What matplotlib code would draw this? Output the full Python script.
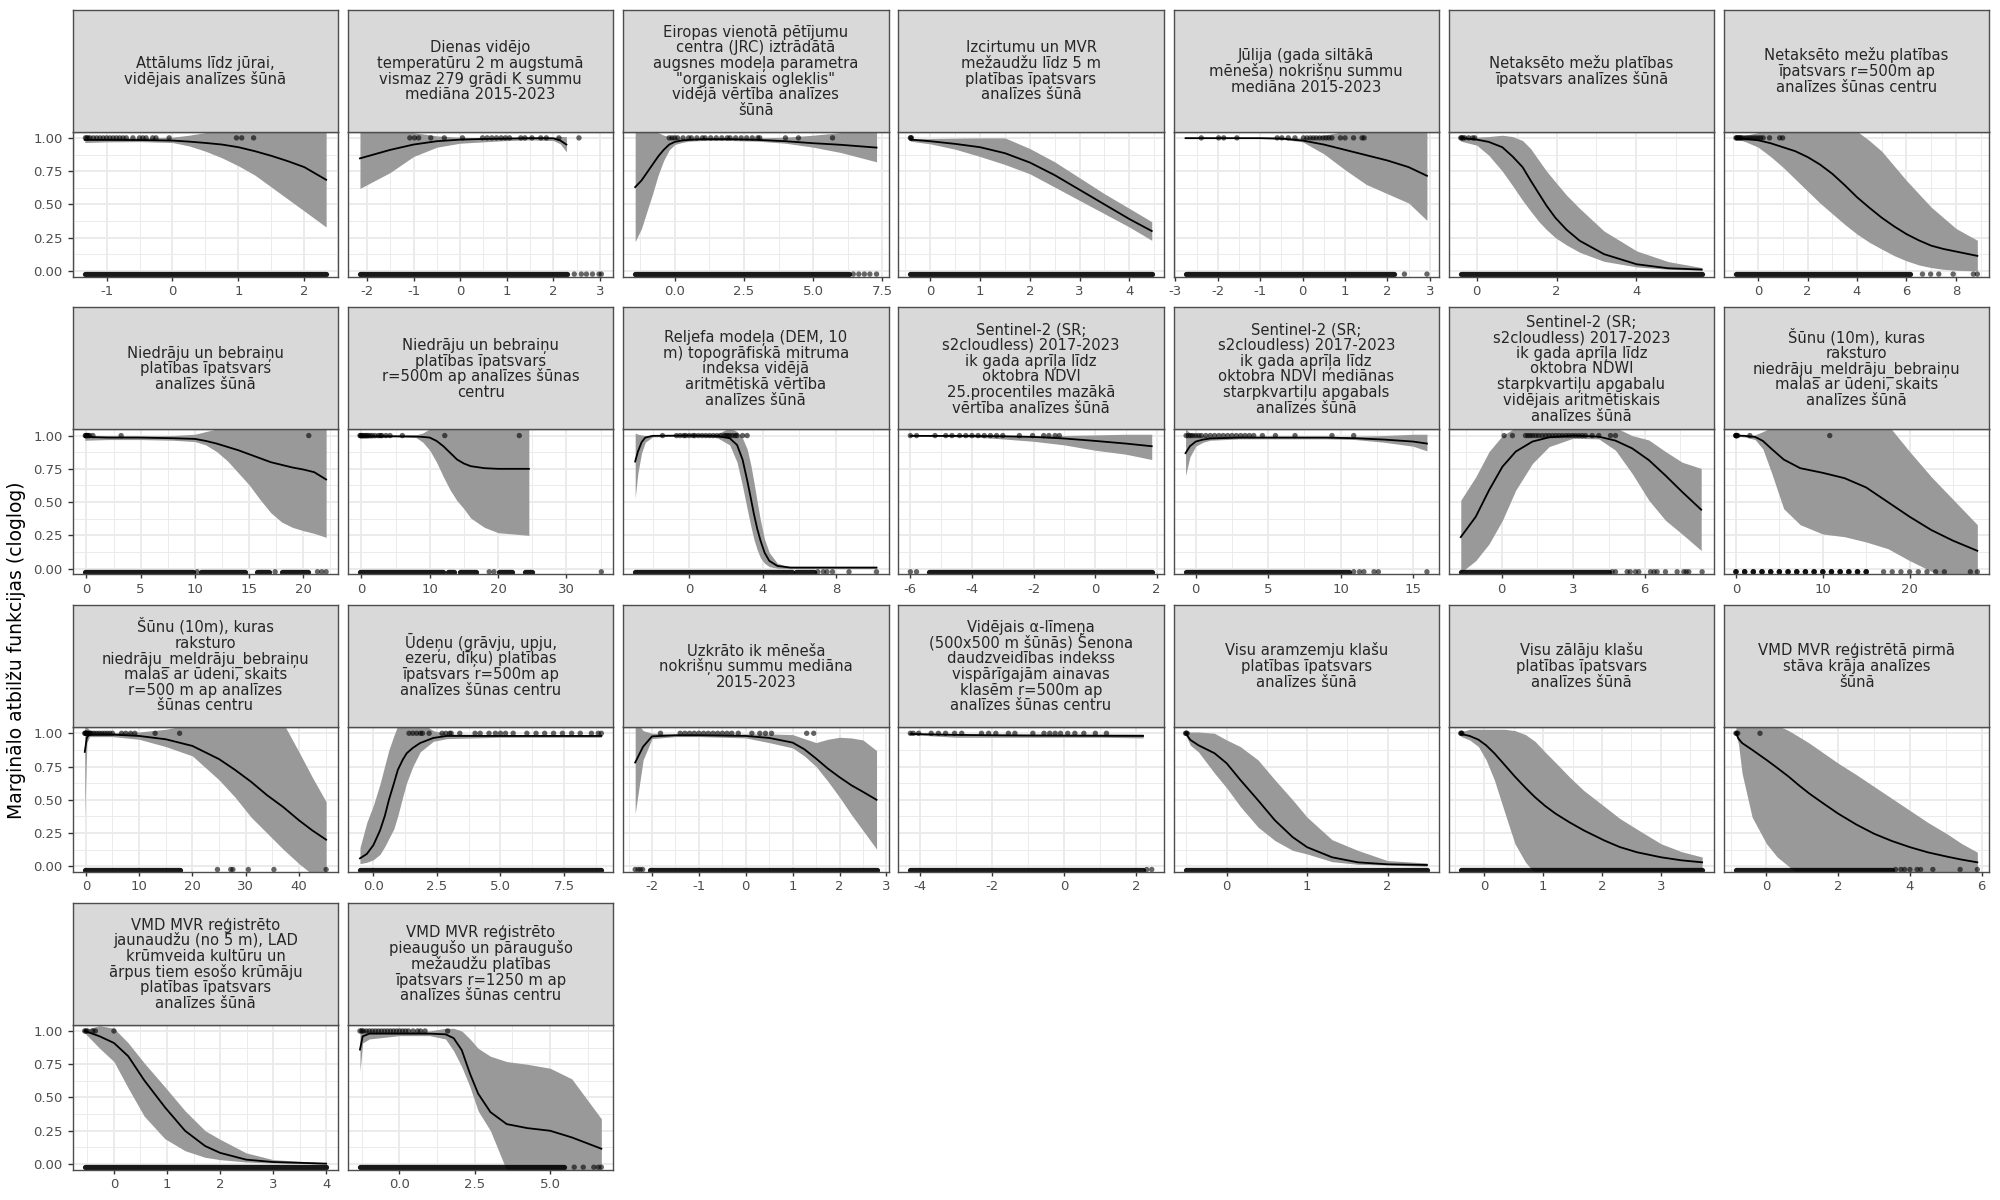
import numpy as np
import matplotlib.pyplot as plt

# ---- data ----
titles = [
    "Attālums līdz jūrai,\nvidējais analīzes šūnā",
    "Dienas vidējo\ntemperatūru 2 m augstumā\nvismaz 279 grādi K summu\nmediāna 2015-2023",
    "Eiropas vienotā pētījumu\ncentra (JRC) iztrādātā\naugsnes modeļa parametra\n\"organiskais ogleklis\"\nvidējā vērtība analīzes\nšūnā",
    "Izcirtumu un MVR\nmežaudžu līdz 5 m\nplatības īpatsvars\nanalīzes šūnā",
    "Jūlija (gada siltākā\nmēneša) nokrišņu summu\nmediāna 2015-2023",
    "Netaksēto mežu platības\nīpatsvars analīzes šūnā",
    "Netaksēto mežu platības\nīpatsvars r=500m ap\nanalīzes šūnas centru",
    "Niedrāju un bebraiņu\nplatības īpatsvars\nanalīzes šūnā",
    "Niedrāju un bebraiņu\nplatības īpatsvars\nr=500m ap analīzes šūnas\ncentru",
    "Reljefa modeļa (DEM, 10\nm) topogrāfiskā mitruma\nindeksa vidējā\naritmētiskā vērtība\nanalīzes šūnā",
    "Sentinel-2 (SR;\ns2cloudless) 2017-2023\nik gada aprīļa līdz\noktobra NDVI\n25.procentiles mazākā\nvērtība analīzes šūnā",
    "Sentinel-2 (SR;\ns2cloudless) 2017-2023\nik gada aprīļa līdz\noktobra NDVI mediānas\nstarpkvartiļu apgabals\nanalīzes šūnā",
    "Sentinel-2 (SR;\ns2cloudless) 2017-2023\nik gada aprīļa līdz\noktobra NDWI\nstarpkvartiļu apgabalu\nvidējais aritmētiskais\nanalīzes šūnā",
    "Šūnu (10m), kuras\nraksturo\nniedrāju_meldrāju_bebraiņu\nmalas ar ūdeni, skaits\nanalīzes šūnā",
    "Šūnu (10m), kuras\nraksturo\nniedrāju_meldrāju_bebraiņu\nmalas ar ūdeni, skaits\nr=500 m ap analīzes\nšūnas centru",
    "Ūdeņu (grāvju, upju,\nezeru, dīķu) platības\nīpatsvars r=500m ap\nanalīzes šūnas centru",
    "Uzkrāto ik mēneša\nnokrišņu summu mediāna\n2015-2023",
    "Vidējais α-līmeņa\n(500x500 m šūnās) Šenona\ndaudzveidības indekss\nvispārīgajām ainavas\nklasēm r=500m ap\nanalīzes šūnas centru",
    "Visu aramzemju klašu\nplatības īpatsvars\nanalīzes šūnā",
    "Visu zālāju klašu\nplatības īpatsvars\nanalīzes šūnā",
    "VMD MVR reģistrētā pirmā\nstāva krāja analīzes\nšūnā",
    "VMD MVR reģistrēto\njaunaudžu (no 5 m), LAD\nkrūmveida kultūru un\nārpus tiem esošo krūmāju\nplatības īpatsvars\nanalīzes šūnā",
    "VMD MVR reģistrēto\npieaugušo un pāraugušo\nmežaudžu platības\nīpatsvars r=1250 m ap\nanalīzes šūnas centru",
]

x_range = [
    [-1.33, 2.33], [-2.15, 3.03], [-1.43, 7.29], [-0.4, 4.45], [-2.76, 2.93],
    [-0.4, 5.65], [-0.9, 8.87], [-0.15, 22.1], [-0.2, 35.1], [-2.95, 10.2],
    [-6.0, 1.84], [-0.7, 15.95], [-1.72, 8.42], [0, 27.8], [-0.2, 45.1],
    [-0.53, 8.97], [-2.36, 2.79], [-4.28, 2.44], [-0.51, 2.49], [-0.4, 3.7],
    [-0.85, 5.88], [-0.55, 4.0], [-1.31, 6.7],
]

x_ticks = [
    [-1, 0, 1, 2], [-2, -1, 0, 1, 2, 3], [0, 2.5, 5, 7.5], [0, 1, 2, 3, 4],
    [-3, -2, -1, 0, 1, 2, 3], [0, 2, 4], [0, 2, 4, 6, 8], [0, 5, 10, 15, 20],
    [0, 10, 20, 30], [0, 4, 8], [-6, -4, -2, 0, 2], [0, 5, 10, 15], [0, 3, 6],
    [0, 10, 20], [0, 10, 20, 30, 40], [0, 2.5, 5, 7.5], [-2, -1, 0, 1, 2, 3],
    [-4, -2, 0, 2], [0, 1, 2], [0, 1, 2, 3], [0, 2, 4, 6], [0, 1, 2, 3, 4],
    [0, 2.5, 5],
]
x_decimals = [0, 0, 1, 0, 0, 0, 0, 0, 0, 0, 0, 0, 0, 0, 0, 1, 0, 0, 0, 0, 0, 0, 1]

curve_x = [
    [-1.33, -1.0, -0.5, 0, 0.25, 0.5, 0.75, 1.0, 1.25, 1.5, 1.75, 2.0, 2.33],
    [-2.15, -1.5, -1, -0.5, 0, 0.5, 1, 1.5, 2, 2.15, 2.28],
    [-1.43, -1.2, -1.0, -0.8, -0.6, -0.4, -0.2, 0, 0.25, 0.5, 1, 2, 3, 4, 5, 6, 7.29],
    [-0.4, 0, 0.5, 1, 1.5, 2, 2.5, 3, 3.5, 4, 4.45],
    [-2.76, -1, -0.5, 0, 0.5, 1, 1.5, 2, 2.5, 2.93],
    [-0.4, 0, 0.3, 0.64, 0.9, 1.15, 1.35, 1.56, 1.75, 1.97, 2.25, 2.58, 3.19, 4.01, 4.8, 5.64],
    [-0.9, -0.5, 0, 0.5, 1, 1.5, 2, 2.5, 3, 3.5, 4, 4.5, 5, 5.5, 6, 6.5, 7, 7.5, 8, 8.87],
    [-0.15, 2, 5, 8, 10, 11, 12, 13, 14, 15, 16, 17, 18, 19, 20, 21, 22.1],
    [-0.2, 5, 8, 9, 10, 11, 12, 13, 14, 15, 16, 18, 20, 24.5],
    [-2.95, -2.8, -2.6, -2.4, -2.0, 0, 1.5, 2.2, 2.6, 2.9, 3.15, 3.35, 3.52, 3.7, 3.88, 4.1, 4.36, 4.8, 5.5, 10.2],
    [-6, -4, -3, -2, -1, 0, 1, 1.84],
    [-0.7, -0.4, 0, 0.5, 1, 3, 6, 9, 11, 13, 15, 15.95],
    [-1.72, -1.09, -0.53, 0.03, 0.59, 1.29, 1.99, 3.0, 4.08, 4.78, 5.48, 6.18, 6.88, 7.58, 8.38],
    [0, 1, 2.2, 3.1, 4.1, 5.5, 7.4, 10, 12.5, 15, 17.5, 20, 22.5, 25, 27.8],
    [-0.2, 0.2, 0.7, 5, 10, 15, 20, 25, 28, 31, 34, 37, 40, 42.5, 45.1],
    [-0.53, -0.26, 0, 0.26, 0.45, 0.61, 0.8, 0.96, 1.15, 1.31, 1.55, 1.84, 2.36, 2.89, 5, 8.97],
    [-2.36, -2.19, -2.0, -1.5, -1, 0, 0.5, 1, 1.25, 1.5, 1.75, 2, 2.25, 2.5, 2.79],
    [-4.28, -3, -2, -1, 0, 1, 2.2],
    [-0.51, -0.45, -0.35, -0.15, 0, 0.17, 0.39, 0.6, 0.82, 1.0, 1.31, 1.63, 2.0, 2.49],
    [-0.4, -0.25, -0.1, 0.03, 0.17, 0.35, 0.52, 0.7, 0.86, 1.03, 1.21, 1.45, 1.69, 2.04, 2.3, 2.59, 3.0, 3.35, 3.7],
    [-0.85, -0.78, -0.68, -0.4, 0, 0.3, 0.62, 0.9, 1.19, 1.6, 2, 2.5, 3, 3.5, 4, 4.5, 5.03, 5.45, 5.88],
    [-0.55, -0.27, 0, 0.27, 0.57, 0.96, 1.34, 1.72, 2, 2.49, 3, 4],
    [-1.31, -1.22, -1.0, 0, 1.0, 1.53, 1.8, 2.07, 2.34, 2.61, 3.02, 3.56, 4.24, 5.0, 5.72, 6.7],
]

curve_y = [
    [0.985, 0.985, 0.984, 0.98, 0.972, 0.962, 0.95, 0.93, 0.90, 0.865, 0.825, 0.78, 0.685],
    [0.846, 0.91, 0.95, 0.975, 0.987, 0.992, 0.995, 0.998, 0.997, 0.98, 0.95],
    [0.63, 0.68, 0.74, 0.80, 0.86, 0.91, 0.95, 0.97, 0.98, 0.985, 0.99, 0.99, 0.985, 0.975, 0.96, 0.948, 0.927],
    [0.987, 0.975, 0.955, 0.93, 0.885, 0.815, 0.72, 0.61, 0.50, 0.39, 0.30],
    [0.998, 0.998, 0.995, 0.98, 0.95, 0.91, 0.87, 0.83, 0.78, 0.715],
    [1.0, 0.987, 0.97, 0.93, 0.86, 0.78, 0.68, 0.58, 0.49, 0.40, 0.31, 0.227, 0.126, 0.05, 0.02, 0.01],
    [0.998, 0.993, 0.982, 0.96, 0.93, 0.90, 0.856, 0.80, 0.73, 0.645, 0.554, 0.475, 0.40, 0.335, 0.277, 0.23, 0.19, 0.165, 0.146, 0.113],
    [0.99, 0.985, 0.985, 0.98, 0.975, 0.96, 0.94, 0.915, 0.89, 0.86, 0.83, 0.80, 0.78, 0.76, 0.745, 0.725, 0.67],
    [0.995, 0.995, 0.993, 0.99, 0.985, 0.96, 0.92, 0.87, 0.82, 0.79, 0.77, 0.755, 0.75, 0.75],
    [0.805, 0.88, 0.95, 0.985, 0.998, 1.0, 0.998, 0.98, 0.93, 0.82, 0.666, 0.53, 0.41, 0.30, 0.21, 0.12, 0.058, 0.02, 0.008, 0.008],
    [0.998, 0.997, 0.995, 0.99, 0.978, 0.96, 0.94, 0.92],
    [0.868, 0.92, 0.955, 0.97, 0.978, 0.985, 0.985, 0.985, 0.98, 0.97, 0.955, 0.94],
    [0.237, 0.39, 0.59, 0.766, 0.88, 0.955, 0.987, 1.0, 0.992, 0.962, 0.904, 0.816, 0.70, 0.577, 0.443],
    [1.0, 0.998, 0.99, 0.96, 0.90, 0.82, 0.755, 0.72, 0.68, 0.61, 0.50, 0.39, 0.29, 0.21, 0.134],
    [0.86, 0.97, 0.99, 0.99, 0.98, 0.955, 0.905, 0.806, 0.725, 0.636, 0.535, 0.447, 0.346, 0.27, 0.20],
    [0.06, 0.093, 0.16, 0.27, 0.38, 0.50, 0.62, 0.725, 0.80, 0.85, 0.89, 0.927, 0.965, 0.98, 0.98, 0.98],
    [0.78, 0.90, 0.977, 0.985, 0.985, 0.98, 0.965, 0.93, 0.88, 0.81, 0.735, 0.67, 0.61, 0.56, 0.50],
    [0.995, 0.988, 0.985, 0.983, 0.982, 0.981, 0.98],
    [1.0, 0.95, 0.91, 0.85, 0.775, 0.65, 0.497, 0.346, 0.22, 0.144, 0.068, 0.03, 0.015, 0.01],
    [0.995, 0.98, 0.952, 0.91, 0.85, 0.76, 0.674, 0.59, 0.52, 0.455, 0.396, 0.33, 0.27, 0.194, 0.145, 0.106, 0.068, 0.045, 0.03],
    [1.0, 0.96, 0.927, 0.876, 0.80, 0.74, 0.674, 0.61, 0.548, 0.47, 0.396, 0.315, 0.245, 0.19, 0.144, 0.105, 0.073, 0.05, 0.03],
    [1.0, 0.96, 0.91, 0.81, 0.63, 0.427, 0.25, 0.135, 0.084, 0.033, 0.015, 0.003],
    [0.86, 0.96, 0.98, 0.98, 0.98, 0.975, 0.946, 0.855, 0.68, 0.53, 0.39, 0.30, 0.27, 0.25, 0.20, 0.115],
]

curve_lo = [
    [0.965, 0.97, 0.972, 0.965, 0.94, 0.90, 0.85, 0.79, 0.72, 0.63, 0.54, 0.45, 0.33],
    [0.62, 0.74, 0.86, 0.93, 0.96, 0.97, 0.98, 0.985, 0.98, 0.955, 0.895],
    [0.22, 0.32, 0.45, 0.58, 0.72, 0.83, 0.91, 0.95, 0.965, 0.975, 0.98, 0.98, 0.975, 0.96, 0.93, 0.89, 0.82],
    [0.975, 0.955, 0.915, 0.86, 0.80, 0.73, 0.63, 0.53, 0.43, 0.33, 0.23],
    [0.995, 0.995, 0.99, 0.97, 0.88, 0.76, 0.65, 0.58, 0.51, 0.38],
    [0.975, 0.945, 0.87, 0.75, 0.64, 0.53, 0.45, 0.37, 0.31, 0.25, 0.195, 0.14, 0.072, 0.03, 0.012, 0.005],
    [0.995, 0.97, 0.93, 0.86, 0.78, 0.69, 0.60, 0.51, 0.43, 0.35, 0.277, 0.215, 0.164, 0.115, 0.076, 0.045, 0.025, 0.012, 0.005, 0.0],
    [0.965, 0.97, 0.97, 0.965, 0.955, 0.93, 0.88, 0.81, 0.72, 0.63, 0.52, 0.42, 0.35, 0.31, 0.285, 0.265, 0.235],
    [0.98, 0.99, 0.985, 0.95, 0.89, 0.80, 0.69, 0.59, 0.51, 0.45, 0.38, 0.31, 0.27, 0.25],
    [0.53, 0.72, 0.87, 0.95, 0.99, 0.998, 0.985, 0.93, 0.80, 0.62, 0.45, 0.32, 0.22, 0.14, 0.08, 0.04, 0.015, 0.003, 0.0, 0.0],
    [0.996, 0.99, 0.975, 0.957, 0.93, 0.89, 0.86, 0.82],
    [0.70, 0.84, 0.92, 0.95, 0.965, 0.975, 0.975, 0.975, 0.97, 0.95, 0.92, 0.885],
    [-0.03, 0.06, 0.186, 0.363, 0.59, 0.79, 0.917, 0.98, 0.975, 0.89, 0.715, 0.514, 0.363, 0.26, 0.136],
    [0.995, 0.99, 0.97, 0.90, 0.72, 0.45, 0.33, 0.26, 0.24, 0.20, 0.15, 0.06, -0.02, -0.1, -0.15],
    [0.38, 0.93, 0.975, 0.975, 0.955, 0.90, 0.83, 0.65, 0.52, 0.37, 0.25, 0.13, 0.02, -0.06, -0.12],
    [0.02, 0.03, 0.05, 0.09, 0.15, 0.21, 0.28, 0.38, 0.52, 0.63, 0.75, 0.86, 0.94, 0.96, 0.97, 0.97],
    [0.396, 0.80, 0.96, 0.975, 0.975, 0.965, 0.93, 0.89, 0.83, 0.75, 0.64, 0.52, 0.39, 0.27, 0.13],
    [0.99, 0.97, 0.97, 0.97, 0.97, 0.97, 0.965],
    [0.99, 0.91, 0.86, 0.70, 0.59, 0.45, 0.295, 0.194, 0.12, 0.093, 0.035, 0.015, 0.01, 0.0],
    [0.977, 0.95, 0.9, 0.80, 0.65, 0.40, 0.17, 0.03, -0.05, -0.1, -0.1, -0.1, -0.1, -0.1, -0.1, -0.1, -0.1, -0.1, -0.1],
    [0.99, 0.92, 0.70, 0.37, 0.17, 0.07, 0.0, -0.06, -0.1, -0.1, -0.1, -0.1, -0.1, -0.1, -0.1, -0.1, -0.1, -0.08, -0.05],
    [0.985, 0.87, 0.77, 0.57, 0.36, 0.19, 0.1, 0.05, 0.033, 0.015, 0.008, 0.0],
    [0.695, 0.91, 0.94, 0.965, 0.965, 0.94, 0.85, 0.73, 0.58, 0.40, 0.25, -0.05, -0.1, -0.1, -0.1, -0.1],
]

curve_hi = [
    [0.995, 1.0, 1.0, 1.005, 1.02, 1.04, 1.06, 1.1, 1.1, 1.1, 1.1, 1.1, 1.1],
    [1.15, 1.08, 1.04, 1.015, 1.005, 1.002, 1.002, 1.003, 1.005, 1.01, 1.01],
    [1.2, 1.15, 1.1, 1.07, 1.04, 1.02, 1.01, 1.0, 1.0, 1.0, 1.0, 1.0, 1.0, 1.005, 1.02, 1.04, 1.05],
    [0.995, 0.995, 0.998, 1.0, 1.0, 0.92, 0.82, 0.70, 0.58, 0.47, 0.37],
    [1.0, 1.0, 1.0, 1.0, 1.02, 1.05, 1.08, 1.08, 1.08, 1.08],
    [1.0, 1.005, 1.01, 1.02, 1.01, 0.98, 0.92, 0.83, 0.75, 0.67, 0.57, 0.47, 0.30, 0.15, 0.07, 0.025],
    [1.0, 1.02, 1.04, 1.06, 1.08, 1.1, 1.1, 1.1, 1.1, 1.08, 1.05, 0.98, 0.9, 0.79, 0.68, 0.58, 0.48, 0.40, 0.32, 0.23],
    [1.0, 1.0, 0.998, 1.0, 1.01, 1.03, 1.05, 1.07, 1.1, 1.1, 1.1, 1.1, 1.1, 1.1, 1.1, 1.1, 1.1],
    [1.0, 1.0, 1.005, 1.02, 1.05, 1.1, 1.1, 1.1, 1.1, 1.1, 1.1, 1.1, 1.1, 1.1],
    [1.02, 1.01, 1.005, 1.0, 1.0, 1.0, 1.01, 1.06, 1.03, 0.98, 0.90, 0.78, 0.65, 0.50, 0.36, 0.22, 0.12, 0.04, 0.012, 0.01],
    [1.0, 1.0, 1.0, 1.0, 1.0, 1.005, 1.01, 1.01],
    [1.05, 1.02, 1.01, 1.0, 0.995, 0.995, 0.995, 0.995, 0.995, 1.0, 1.01, 1.01],
    [0.514, 0.69, 0.88, 1.0, 1.06, 1.08, 1.08, 1.08, 1.08, 1.06, 1.0, 0.967, 0.88, 0.80, 0.753],
    [1.0, 1.0, 1.005, 1.03, 1.06, 1.1, 1.1, 1.1, 1.1, 1.1, 1.08, 0.88, 0.69, 0.52, 0.33],
    [1.1, 1.05, 1.02, 1.005, 1.01, 1.03, 1.07, 1.1, 1.1, 1.1, 1.1, 1.08, 0.86, 0.67, 0.485],
    [0.14, 0.33, 0.46, 0.62, 0.76, 0.876, 0.98, 1.06, 1.1, 1.1, 1.1, 1.08, 1.02, 0.995, 0.99, 0.99],
    [1.1, 1.02, 1.0, 0.995, 0.995, 0.995, 0.995, 0.99, 0.96, 0.93, 0.955, 0.97, 0.965, 0.95, 0.87],
    [1.0, 0.995, 0.995, 0.995, 0.995, 0.995, 0.995],
    [1.01, 1.01, 1.01, 1.0, 0.95, 0.9, 0.80, 0.65, 0.5, 0.37, 0.2, 0.12, 0.043, 0.025],
    [1.01, 1.03, 1.03, 1.03, 1.03, 1.03, 1.02, 0.99, 0.94, 0.86, 0.78, 0.67, 0.57, 0.45, 0.36, 0.28, 0.17, 0.11, 0.07],
    [1.05, 1.08, 1.1, 1.1, 1.1, 1.06, 1.02, 0.975, 0.927, 0.85, 0.775, 0.69, 0.6, 0.51, 0.42, 0.33, 0.245, 0.17, 0.106],
    [1.01, 1.04, 1.02, 0.91, 0.76, 0.58, 0.40, 0.25, 0.186, 0.084, 0.033, 0.008],
    [1.03, 1.01, 1.0, 0.995, 1.0, 1.02, 1.02, 1.0, 0.94, 0.87, 0.81, 0.77, 0.75, 0.72, 0.64, 0.34],
]

# presences (drawn at 1)
pres_x = [
    [-1.32, -1.3, -1.28, -1.25, -1.2, -1.15, -1.1, -1.05, -1.0, -0.95, -0.9, -0.85, -0.8, -0.75, -0.7, -0.6, -0.5, -0.45, -0.4, -0.3, -0.25, -0.05, 0.97, 1.05, 1.23],
    [-1.08, -0.98, -0.89, -0.63, -0.34, 0.05, 0.48, 0.58, 0.68, 0.78, 0.88, 0.97, 1.06, 1.3, 1.39, 1.54, 1.73, 1.85, 2.12, 2.55],
    [-0.2, -0.1, 0.0, 0.1, 0.3, 0.5, 0.6, 0.8, 1.0, 1.1, 1.3, 1.5, 1.7, 1.9, 2.0, 2.2, 2.4, 2.6, 2.8, 3.0, 3.07, 4.0, 4.47, 5.7],
    [-0.4, -0.39, -0.38],
    [-2.39, -1.98, -1.86, -1.55, -0.6, -0.49, -0.34, -0.18, 0.02, 0.1, 0.18, 0.25, 0.32, 0.4, 0.48, 0.55, 0.62, 0.69, 0.89, 1.0, 1.2, 1.4, 1.45],
    [-0.4, -0.38, -0.35, -0.3, -0.2, -0.1, -0.05],
    [-0.9, -0.87, -0.84, -0.8, -0.76, -0.72, -0.68, -0.6, -0.5, -0.4, -0.3, -0.2, -0.1, 0.0, 0.1, 0.2, 0.46, 0.87, 0.99],
    [-0.1, -0.05, 0, 0.05, 0.1, 0.2, 0.3, 0.6, 3.2, 20.5],
    [-0.2, -0.1, 0, 0.2, 0.4, 0.6, 0.8, 1.0, 1.3, 1.6, 2.0, 2.5, 2.8, 3.0, 3.6, 4.2, 6.0, 12.2, 23.1],
    [-1.46, -0.7, -0.5, -0.3, -0.2, 0, 0.2, 0.3, 0.5, 0.7, 0.9, 1.1, 1.3, 1.5, 1.7, 1.9, 2.0, 2.1, 2.2, 2.35, 2.5, 2.6, 2.9, 3.15],
    [-6.0, -5.8, -5.2, -4.85, -4.65, -4.4, -4.2, -4.0, -3.8, -3.6, -3.4, -3.2, -3.0, -2.46, -2.03, -1.67, -1.5, -1.3, -1.16],
    [-0.66, -0.5, -0.35, -0.2, 0, 0.2, 0.39, 0.7, 1.0, 1.3, 1.6, 1.9, 2.2, 2.5, 2.8, 3.1, 3.4, 3.7, 4.0, 4.6, 5.5, 6.85, 9.4, 10.9],
    [0.1, 0.45, 1.0, 1.1, 1.2, 1.3, 1.43, 1.55, 1.7, 1.85, 1.99, 2.13, 2.27, 2.41, 2.55, 2.7, 2.83, 2.97, 3.1, 3.24, 3.38, 3.52, 3.8, 4.08, 4.57, 4.78],
    [0, 0, 0, 0.05, 0.1, 0.2, 1.6, 10.8],
    [-0.2, -0.1, 0, 0.1, 0.2, 0.4, 0.6, 0.8, 1.0, 1.5, 2, 2.5, 3, 3.5, 4, 4.5, 5, 6.7, 7.5, 8.4, 9.2, 13, 17.6],
    [1.4, 1.55, 1.7, 1.85, 1.93, 2.19, 2.7, 2.85, 3.0, 3.06, 3.4, 4.0, 4.2, 4.55, 4.8, 5.0, 5.2, 5.5, 6.04, 6.4, 6.74, 7.09, 7.44, 7.8, 8.14, 8.58, 8.85, 8.97],
    [-1.82, -1.4, -1.3, -1.2, -1.1, -1.0, -0.9, -0.8, -0.7, -0.6, -0.5, -0.4, -0.3, -0.16, 0.13, 0.3, 0.42, 0.55, 1.3, 1.45],
    [-4.28, -4.2, -4.05, -3.7, -3.5, -3.3, -3.05, -2.85, -2.3, -2.1, -1.9, -1.55, -1.37, -0.87, -0.56, -0.4, -0.25, -0.1, 0.1, 0.3, 0.55, 0.87, 1.18],
    [-0.51, -0.5, -0.49],
    [-0.4, -0.39, -0.38],
    [-0.85, -0.83, -0.8, -0.18],
    [-0.55, -0.53, -0.5, -0.4, -0.35, 0.0],
    [-1.31, -1.25, -1.2, -1.1, -1.0, -0.9, -0.8, -0.7, -0.6, -0.5, -0.4, -0.3, -0.2, -0.1, 0, 0.1, 0.2, 0.3, 0.45, 0.6, 0.7, 0.85, 1.6],
]

# background points (drawn just below 0): dense stretches and single points
bg_bands = [
    [(-1.33, 2.33)], [(-2.15, 2.3)], [(-1.43, 6.3)], [(-0.4, 4.45)], [(-2.76, 2.16)],
    [(-0.4, 5.65)], [(-0.9, 6.15)], [(-0.15, 9.8), (10.6, 14.6), (15.7, 16.8), (18.0, 20.4)],
    [(-0.2, 12.0), (12.7, 13.5), (14.5, 16.7), (20.2, 22.0), (24, 25)],
    [(-2.95, 5.6), (5.8, 6.8)], [(-5.4, 1.84)], [(-0.7, 10.6)], [(-1.72, 4.5)], [],
    [(-0.2, 17.6)], [(-0.53, 8.97)], [(-2.05, 2.79)], [(-4.28, 2.2)], [(-0.51, 2.49)],
    [(-0.4, 3.7)], [(-0.85, 3.5)], [(-0.55, 4.0)], [(-1.31, 5.45)],
]
bg_x = [
    [], [2.45, 2.6, 2.71, 2.84, 2.98, 3.03], [6.45, 6.65, 6.85, 7.05, 7.29], [], [2.4, 2.93],
    [], [6.65, 6.98, 7.31, 7.89, 8.71, 8.87], [10.2, 17.4, 21.3, 21.7, 22.1],
    [18.7, 19.4, 35.1], [7.0, 7.3, 7.5, 7.8, 8.7, 10.2], [-6.0, -5.8],
    [10.9, 11.3, 11.6, 12.3, 12.6, 15.95],
    [4.64, 4.78, 5.27, 5.4, 5.62, 5.76, 6.25, 6.4, 6.53, 6.88, 7.37, 7.65, 7.75, 7.86, 8.42],
    [0, 1, 2, 3, 4, 5, 6, 7, 8, 9, 10, 11, 12, 13, 14, 15,
     0, 1, 2, 3, 4, 5, 6, 7, 8, 9, 10, 11, 12, 13, 14, 15,
     0, 1, 2, 3, 4, 5, 6, 7, 8, 9, 10, 11, 12, 13, 14, 15,
     17, 18, 19, 20, 21, 22, 23, 24, 27, 27.8],
    [24.7, 27.2, 27.6, 30.5, 35.3, 45.1], [], [-2.36, -2.3, -2.25, -2.2], [2.3, 2.44], [], [],
    [3.6, 3.75, 3.85, 4.0, 4.2, 4.3, 4.64, 5.4, 5.88], [], [5.8, 6.1, 6.45, 6.6, 6.7],
]

y_ticks = [0, 0.25, 0.5, 0.75, 1.0]
y_label = "Marginālo atbilžu funkcijas (cloglog)"

# ---- layout (pixels of the 2000x1200 canvas) ----
W, H = 2000, 1200
col_x0, col_pitch, col_w = 72.7, 275.2, 265.5
row_y0, row_pitch, strip_h, panel_h = 9.5, 297.7, 122, 145
line_pitch = 15.7
strip_fs = 10.6
tick_fs = 9.5
bg_y = -0.024

grid_col = "#EBEBEB"
dark = "#4D4D4D"
ribbon_col = "#999999"


def minor_breaks(ticks, lo, hi):
    d = ticks[1] - ticks[0]
    ext = [ticks[0] - d] + list(ticks) + [ticks[-1] + d]
    mids = [(a + b) / 2 for a, b in zip(ext[:-1], ext[1:])]
    return [m for m in mids if lo <= m <= hi]


fig = plt.figure(figsize=(20, 12), dpi=100)

for i, title in enumerate(titles):
    r, c = divmod(i, 7)
    left = col_x0 + c * col_pitch
    top = row_y0 + r * row_pitch

    ax = fig.add_axes([left / W, 1 - (top + strip_h + panel_h) / H, col_w / W, panel_h / H])
    sx = fig.add_axes([left / W, 1 - (top + strip_h) / H, col_w / W, strip_h / H])

    # strip
    sx.set_facecolor("#D9D9D9")
    sx.set_xticks([])
    sx.set_yticks([])
    for sp in sx.spines.values():
        sp.set_color(dark)
        sp.set_linewidth(1.0)
    lines = title.split("\n")
    n = len(lines)
    fs_px = strip_fs * 100 / 72
    for k, line in enumerate(lines):
        yc = strip_h / 2 + ((n - 1) / 2 - k) * line_pitch
        sx.text(0.5, (yc - 0.36 * fs_px) / strip_h, line, transform=sx.transAxes,
                ha="center", va="baseline", fontsize=strip_fs, color="#262626")

    # panel
    lo, hi = x_range[i]
    R = hi - lo
    xl = (lo - 0.05 * R, hi + 0.05 * R)
    ax.set_xlim(*xl)
    ax.set_ylim(-0.042, 1.048)
    ax.set_facecolor("white")

    ax.set_xticks(x_ticks[i])
    ax.set_xticklabels([f"{t:.{x_decimals[i]}f}" for t in x_ticks[i]])
    ax.set_xticks(minor_breaks(x_ticks[i], *xl), minor=True)
    ax.set_yticks(y_ticks)
    ax.set_yticks([0.125, 0.375, 0.625, 0.875], minor=True)
    if c == 0:
        ax.set_yticklabels([f"{t:.2f}" for t in y_ticks])
        ax.tick_params(axis="y", which="major", length=3.6, width=1.0, color="#333333",
                       labelsize=tick_fs, labelcolor="#4D4D4D", pad=3.6)
    else:
        ax.tick_params(axis="y", which="major", length=0, labelleft=False)
    ax.tick_params(axis="x", which="major", length=3.0, width=1.0, color="#333333",
                   labelsize=tick_fs, labelcolor="#4D4D4D", pad=3.0)
    ax.tick_params(which="minor", length=0)
    ax.grid(which="major", color=grid_col, linewidth=1.4)
    ax.grid(which="minor", color=grid_col, linewidth=0.7)
    ax.set_axisbelow(True)
    for sp in ax.spines.values():
        sp.set_color(dark)
        sp.set_linewidth(1.0)
        sp.set_zorder(10)

    ax.fill_between(curve_x[i], curve_lo[i], curve_hi[i], color=ribbon_col, lw=0, zorder=2)
    ax.plot(curve_x[i], curve_y[i], color="black", lw=1.3, zorder=3)

    for a, b in bg_bands[i]:
        ax.plot([a, b], [bg_y, bg_y], color="black", lw=3.8, alpha=0.9,
                solid_capstyle="round", zorder=4)
    if bg_x[i]:
        ax.scatter(bg_x[i], [bg_y] * len(bg_x[i]), s=15, color="black", alpha=0.6,
                   edgecolors="none", zorder=4)
    ax.scatter(pres_x[i], [1.0] * len(pres_x[i]), s=15, color="black", alpha=0.6,
               edgecolors="none", zorder=4)

fig.text(16.5 / W, 1 - 650 / H, y_label, rotation=90, ha="center", va="center",
         fontsize=13.5, color="black")

fig.savefig("out.png", dpi=100, facecolor="white")
